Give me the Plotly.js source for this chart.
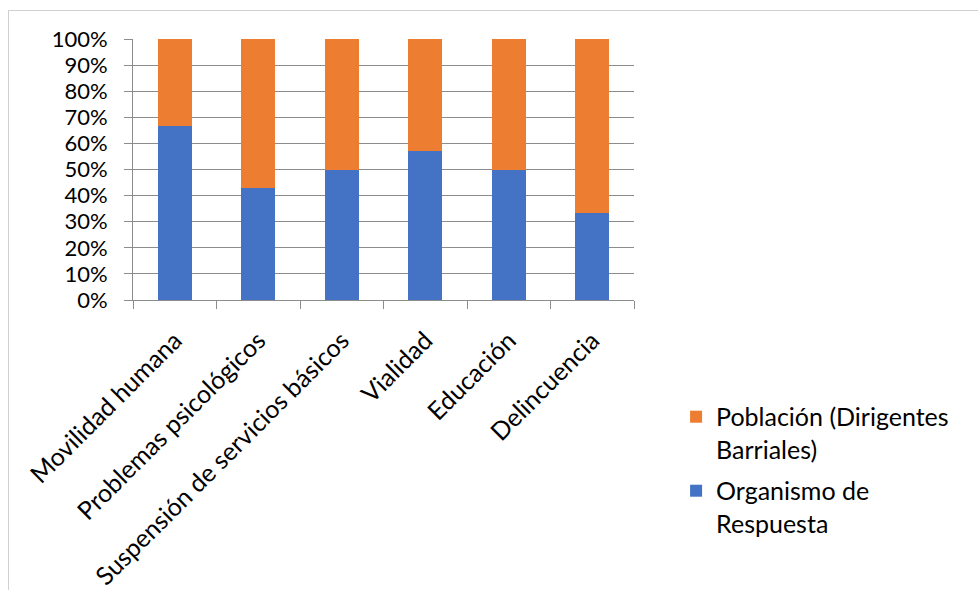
<!DOCTYPE html>
<html>
<head>
<meta charset="utf-8">
<script src="https://cdn.plot.ly/plotly-3.0.1.min.js"></script>
<style>
  html, body { margin: 0; padding: 0; background: #fff; }
  #wrap { position: relative; width: 978px; height: 590px; overflow: hidden; }
  #frame { position: absolute; left: 8px; top: 10px; width: 1000px; height: 700px; border: 1px solid #d0d0d0; box-sizing: border-box; pointer-events: none; }
  #chart { position: absolute; left: 0; top: 0; width: 978px; height: 590px; }
</style>
</head>
<body>
<div id="wrap">
  <div id="chart"></div>
  <div id="frame"></div>
</div>
<script>
const categories = ["Movilidad humana", "Problemas psicológicos", "Suspensión de servicios básicos", "Vialidad", "Educación", "Delincuencia"];
const organismo = [66.7, 42.9, 50, 57.1, 50, 33.3];
const poblacion = [33.3, 57.1, 50, 42.9, 50, 66.7];
const yTickVals = [0, 10, 20, 30, 40, 50, 60, 70, 80, 90, 100];
const yTickText = ["0%", "10%", "20%", "30%", "40%", "50%", "60%", "70%", "80%", "90%", "100%"];

const FONT = "Lato, 'Open Sans', sans-serif";

const traces = [
  { type: "bar", name: "Organismo de<br>Respuesta", legendgroup: "a", legendrank: 2, x: categories, y: organismo, marker: { color: "#4472C4" }, hoverinfo: "skip" },
  { type: "bar", name: "Población (Dirigentes<br>Barriales)", legendgroup: "b", legendrank: 1, x: categories, y: poblacion, marker: { color: "#ED7D31" }, hoverinfo: "skip" }
];

const layout = {
  width: 978, height: 590,
  margin: { l: 133, r: 344, t: 39, b: 290 },
  paper_bgcolor: "rgba(0,0,0,0)",
  plot_bgcolor: "rgba(0,0,0,0)",
  barmode: "stack",
  bargap: 0.59,
  font: { family: FONT, size: 22, color: "#000" },
  showlegend: true,
  legend: {
    x: 1.084, xanchor: "left", y: -0.36, yanchor: "top",
    font: { family: FONT, size: 25, color: "#000" },
    itemwidth: 30, traceorder: "grouped", tracegroupgap: 6, valign: "top"
  },
  xaxis: {
    tickangle: -45,
    showline: true, linecolor: "#8c8c8c", linewidth: 1,
    ticks: "outside", ticklen: 8, tickcolor: "#8c8c8c",
    tickson: "boundaries",
    ticklabelstandoff: 15,
    showgrid: false,
    tickfont: { family: FONT, size: 25, color: "#000" }
  },
  yaxis: {
    range: [0, 100],
    tickvals: yTickVals, ticktext: yTickText,
    showline: true, linecolor: "#8c8c8c", linewidth: 1,
    ticks: "outside", ticklen: 8, tickcolor: "#8c8c8c",
    ticklabelstandoff: 12,
    showgrid: true, gridcolor: "#8c8c8c", gridwidth: 1,
    zeroline: false,
    tickfont: { family: FONT, size: 22, color: "#000" }
  }
};

Plotly.newPlot("chart", traces, layout, { staticPlot: true, displayModeBar: false });
</script>
</body>
</html>
